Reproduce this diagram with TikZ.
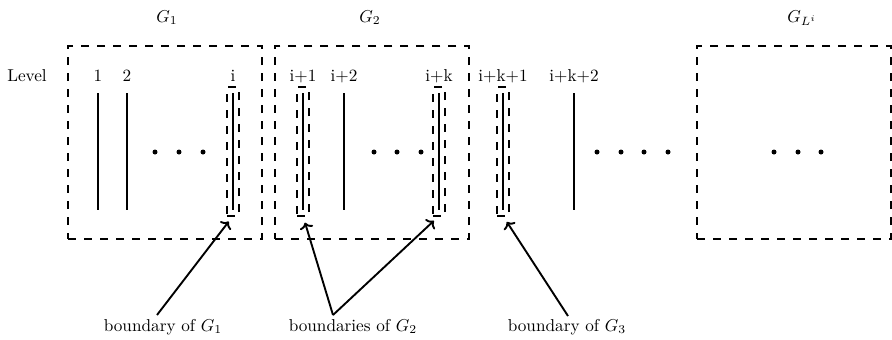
\documentclass[tikz,border=0pt]{standalone}
\usetikzlibrary{arrows.meta}
\newlength\pxu
\setlength\pxu{0.5814pt}
\begin{document}
\begin{tikzpicture}[x=0.5814pt,y=-0.5814pt,line width=1.1pt,
  dashpat/.style={dash pattern=on 8\pxu off 8\pxu},
  bigbox/.style={draw,dashpat,inner sep=0pt,outer sep=0pt,minimum width=194\pxu,minimum height=193\pxu},
  minibox/.style={draw,dashpat,inner sep=0pt,outer sep=0pt,minimum width=12\pxu,minimum height=129\pxu},
  lvl/.style={inner sep=0pt,anchor=base},
  ttl/.style={inner sep=0pt,anchor=base},
  dotc/.style={fill,circle,inner sep=0pt,minimum size=5\pxu},
  lab/.style={inner sep=0pt,anchor=base},
  arr/.style={-{Computer Modern Rightarrow[width=8pt,length=3.5pt]},shorten >=7\pxu}]
\useasboundingbox (0,0) rectangle (892,340);
% group boxes
\node[bigbox] (g1) at (165,142.5) {};
\node[bigbox] (g2) at (372.3,142.5) {};
\node[bigbox] (gl) at (794,142.5) {};
% titles
\node[ttl] (tg1) at (167,22) {$G_1$};
\node[ttl] (tg2) at (370,22) {$G_2$};
\node[ttl] (tgl) at (802,22) {$G_{L^i}$};
% level labels
\node[lvl] (lev) at (27,81) {Level};
\node[lvl] (l1) at (98,81) {1};
\node[lvl] (l2) at (127,81) {2};
\node[lvl] (li) at (233,81) {i};
\node[lvl] (li1) at (303,81) {i+1};
\node[lvl] (li2) at (344,81) {i+2};
\node[lvl] (lik) at (439,81) {i+k};
\node[lvl] (lik1) at (503,81) {i+k+1};
\node[lvl] (lik2) at (574,81) {i+k+2};
% level lines
\draw (98,93) -- (98,210);
\draw (127,93) -- (127,210);
\draw (233,93) -- (233,210);
\draw (303,93) -- (303,210);
\draw (344,93) -- (344,210);
\draw (439,93) -- (439,210);
\draw (503,93) -- (503,210);
\draw (574,93) -- (574,210);
% boundary boxes
\node[minibox] (b1) at (233,151.5) {};
\node[minibox] (b2) at (303,151.5) {};
\node[minibox] (b3) at (439,151.5) {};
\node[minibox] (b4) at (503,151.5) {};
% dots
\foreach \x/\n in {155/a,179/b,203/c} \node[dotc] (d1\n) at (\x,152) {};
\foreach \x/\n in {374/a,397/b,421/c} \node[dotc] (d2\n) at (\x,152) {};
\foreach \x/\n in {597/a,621/b,644/c,668/d} \node[dotc] (d3\n) at (\x,152) {};
\foreach \x/\n in {774/a,798/b,821/c} \node[dotc] (d4\n) at (\x,152) {};
% bottom labels
\node[lab] (bl1) at (163,331) {boundary of $G_1$};
\node[lab] (bl2) at (353,331) {boundaries of $G_2$};
\node[lab] (bl3) at (567,331) {boundary of $G_3$};
\coordinate (t1) at (157,315);
\coordinate (t2) at (333,315);
\coordinate (t3) at (568,316);
% arrows
\draw[arr] (t1) -- (b1.south);
\draw[arr] (t2) -- (b2.south);
\draw[arr] (t2) -- (b3.south);
\draw[arr] (t3) -- (b4.south);
\end{tikzpicture}
\end{document}
